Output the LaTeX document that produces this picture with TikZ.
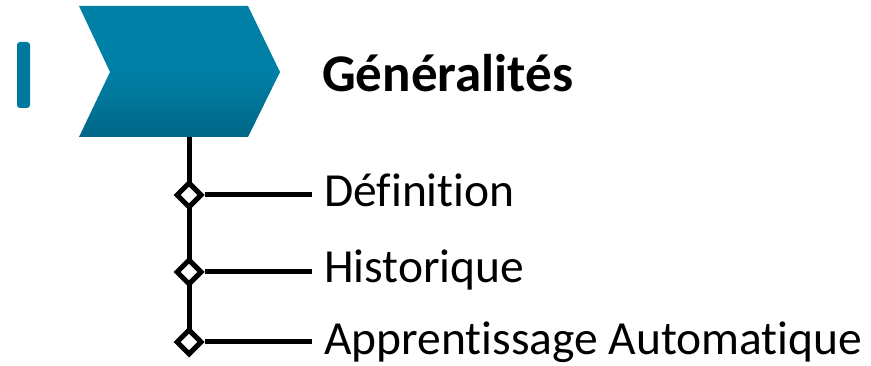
\documentclass[tikz,border=0pt]{standalone}
\usepackage{fontspec}
\setmainfont[Ligatures=NoCommon]{Carlito}
\usetikzlibrary{shapes.geometric}
\definecolor{chevtop}{RGB}{0,128,166}
\definecolor{chevbot}{RGB}{0,78,104}
\definecolor{barcol}{RGB}{0,121,160}
\pgfdeclareverticalshading{chevshade}{100bp}{color(0bp)=(chevbot); color(50bp)=(chevtop); color(100bp)=(chevtop)}
\begin{document}
\begin{tikzpicture}[x=1pt,y=-1pt,
  item/.style={anchor=base west,inner xsep=12pt,inner ysep=0pt,font=\fontsize{47.5}{56}\selectfont},
  knot/.style={diamond,draw,fill=white,line width=5pt,inner sep=0pt,minimum size=26pt}]
\useasboundingbox (0,0) rectangle (871,366);
\fill[barcol,rounded corners=3pt] (17,42) rectangle (30,108);
\shade[shading=chevshade]
  (79,6) -- (248,6) -- (280,72) -- (248,137) -- (79,137) -- (110,72) -- cycle;
\coordinate (stem) at (189,137);
\node[anchor=base west,inner sep=0pt,font=\fontsize{53}{60}\selectfont\bfseries] (titre) at (322,92) {Généralités};
\node[item] (def) at (312,207) {Définition};
\node[item] (hist) at (312,283) {Historique};
\node[item] (app) at (312,355) {Apprentissage Automatique};
\draw[line width=5pt] (stem) -- (189,342);
\node[knot] (k1) at (189,195) {};
\node[knot] (k2) at (189,272) {};
\node[knot] (k3) at (189,342) {};
\draw[line width=5pt] (k1.east) -- (k1 -| def.west);
\draw[line width=5pt] (k2.east) -- (k2 -| hist.west);
\draw[line width=5pt] (k3.east) -- (k3 -| app.west);
\end{tikzpicture}
\end{document}
